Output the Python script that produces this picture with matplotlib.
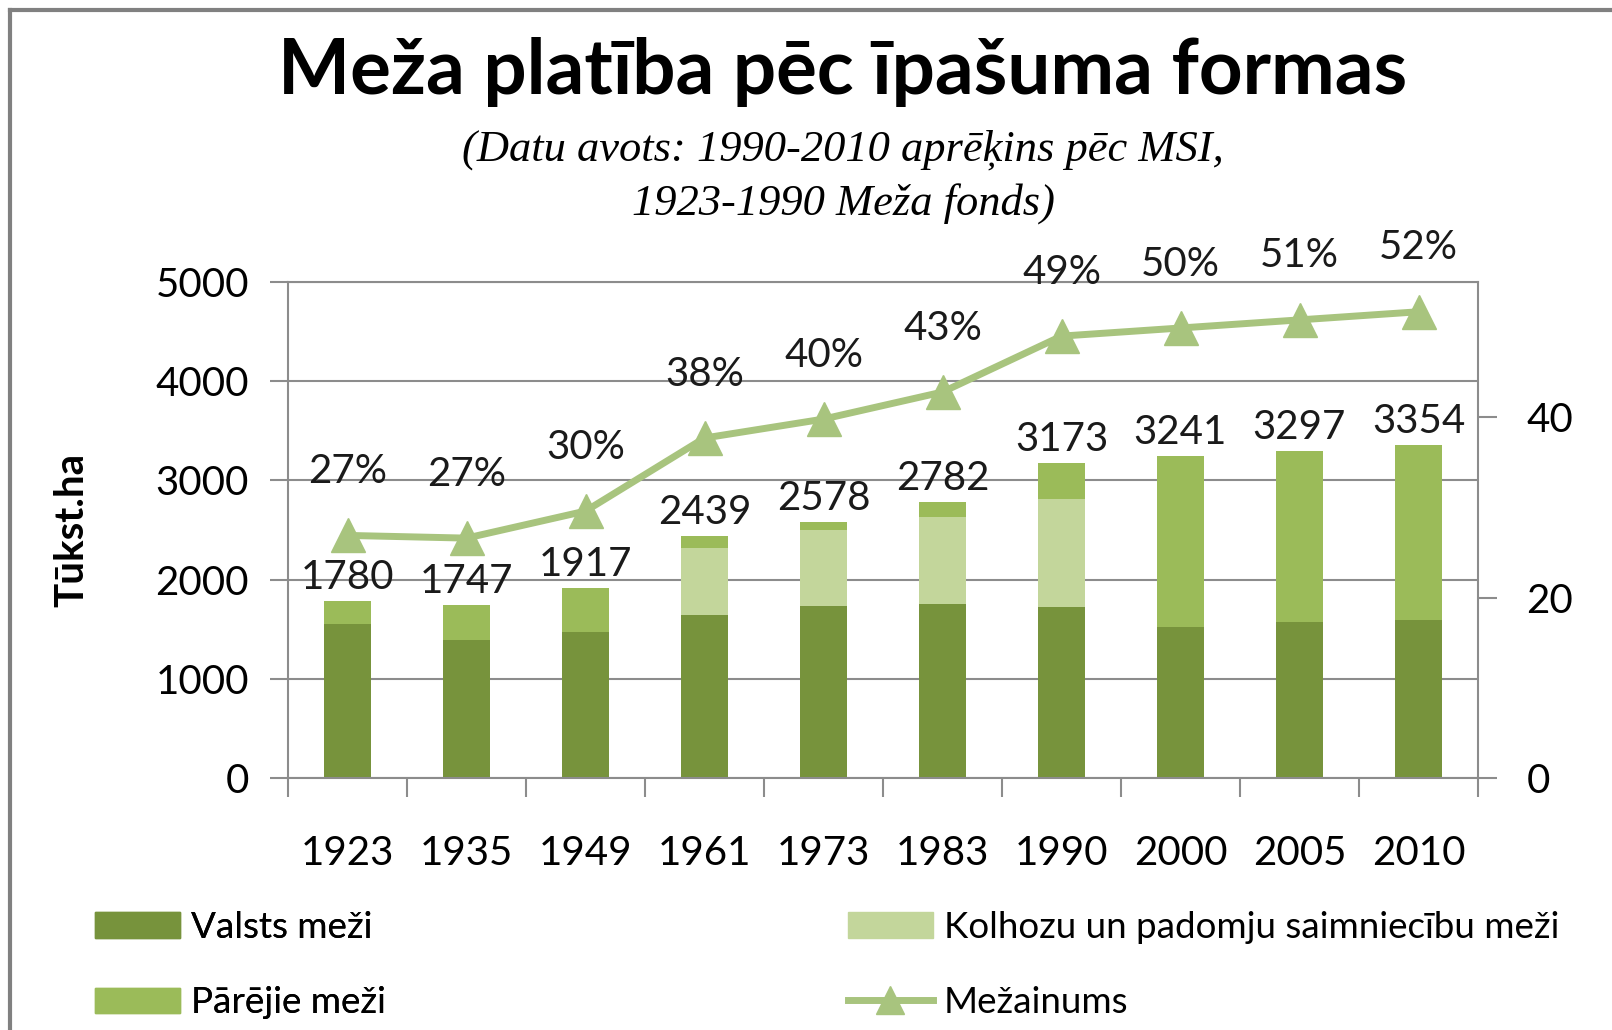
import matplotlib.pyplot as plt
from matplotlib.lines import Line2D
from matplotlib.patches import Patch

years = ['1923', '1935', '1949', '1961', '1973', '1983', '1990', '2000', '2005', '2010']
valsts = [1550, 1390, 1475, 1640, 1730, 1750, 1725, 1520, 1570, 1590]
kolhozu = [0, 0, 0, 680, 770, 880, 1085, 0, 0, 0]
parejie = [230, 357, 442, 119, 78, 152, 363, 1721, 1727, 1764]
kopa = [1780, 1747, 1917, 2439, 2578, 2782, 3173, 3241, 3297, 3354]
mezainums = [26.9, 26.6, 29.6, 37.7, 39.8, 42.8, 49.0, 49.9, 50.8, 51.7]

c_valsts = '#77933C'
c_kolhozu = '#C3D69B'
c_parejie = '#9BBB59'
c_line = '#A8C47E'
c_grid = '#8C8C8C'

plt.rcParams['font.family'] = ['Lato', 'DejaVu Sans']

fig = plt.figure(figsize=(16.12, 10.30), dpi=100)
ax = fig.add_axes([288 / 1612, 1 - 778 / 1030, (1478 - 288) / 1612, (778 - 282) / 1030])

x = list(range(len(years)))
b2 = [v + k for v, k in zip(valsts, kolhozu)]
ax.bar(x, valsts, width=0.4, color=c_valsts, zorder=2)
ax.bar(x, kolhozu, width=0.4, bottom=valsts, color=c_kolhozu, zorder=2)
ax.bar(x, parejie, width=0.4, bottom=b2, color=c_parejie, zorder=2)

for xi, t in zip(x, kopa):
    ax.annotate(str(t), (xi, t), xytext=(0, 17), textcoords='offset points',
                ha='center', va='center', fontsize=29, color='#1a1a1a')

ax.set_xlim(-0.5, len(years) - 0.5)
ax.set_ylim(0, 5000)
ax.set_yticks(range(0, 5001, 1000))
ax.yaxis.grid(True, color=c_grid, lw=1.5, zorder=0)
ax.set_xticks(x)
ax.set_xticklabels(years)
ax.set_xticks([i - 0.5 for i in range(len(years) + 1)], minor=True)
ax.tick_params(axis='x', which='major', length=0, pad=41, labelsize=29)
ax.tick_params(axis='x', which='minor', length=14, width=1.5, color=c_grid, direction='out')
ax.tick_params(axis='y', length=13, width=1.5, color=c_grid, pad=15, labelsize=29)
for s in ax.spines.values():
    s.set_color(c_grid)
    s.set_linewidth(1.5)
ax.set_ylabel('Tūkst.ha', fontsize=29, fontweight='bold', labelpad=47)

ax2 = ax.twinx()
ax2.plot(x, mezainums, color=c_line, lw=5, marker='^', markersize=24, zorder=3)
for xi, v in zip(x, mezainums):
    ax2.annotate(f'{v:.0f}%', (xi, v), xytext=(0, 46), textcoords='offset points',
                 ha='center', va='center', fontsize=29, color='#1a1a1a')
ax2.set_ylim(0, 55)
ax2.set_yticks([0, 20, 40])
ax2.tick_params(axis='y', length=14, width=1.5, color=c_grid, pad=21, labelsize=29)
for s in ax2.spines.values():
    s.set_visible(False)

fig.text(0.523, 1 - 72 / 1030, 'Meža platība pēc īpašuma formas', ha='center', va='center',
         fontsize=55, fontweight='bold')
fig.text(0.523, 1 - 150 / 1030, '(Datu avots: 1990-2010 aprēķins pēc MSI,', ha='center', va='center',
         fontsize=32, style='italic', family='Liberation Serif')
fig.text(0.523, 1 - 204 / 1030, '1923-1990 Meža fonds)', ha='center', va='center',
         fontsize=32, style='italic', family='Liberation Serif')

leg_kw = dict(frameon=False, fontsize=26.5, handlelength=2.3, handletextpad=0.3,
              labelspacing=1.15, borderpad=0, borderaxespad=0, loc='upper left')
h1 = [Patch(color=c_valsts), Patch(color=c_parejie)]
leg1 = fig.legend(h1, ['Valsts meži', 'Pārējie meži'], bbox_to_anchor=(95 / 1612, 1 - 911 / 1030), **leg_kw)
h2 = [Patch(color=c_kolhozu),
      Line2D([], [], color=c_line, lw=5, marker='^', markersize=20)]
fig.legend(h2, ['Kolhozu un padomju saimniecību meži', 'Mežainums'],
           bbox_to_anchor=(848 / 1612, 1 - 911 / 1030), **leg_kw)
fig.add_artist(leg1)

fig.add_artist(Line2D([10 / 1612, 1], [1 - 10 / 1030, 1 - 10 / 1030], color='#808080', lw=3))
fig.add_artist(Line2D([10 / 1612, 10 / 1612], [0, 1 - 10 / 1030], color='#808080', lw=3))

fig.savefig('out.png', dpi=100)
